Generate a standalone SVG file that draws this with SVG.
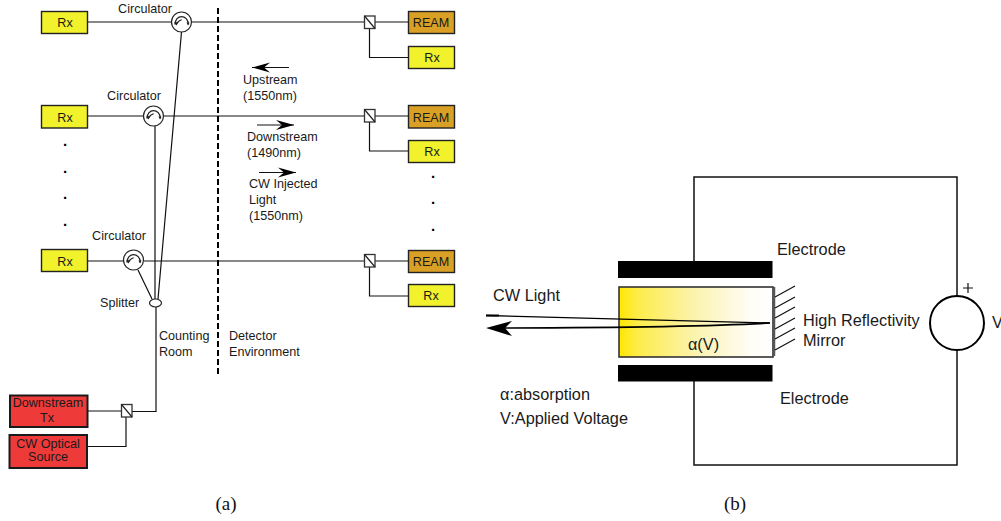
<svg xmlns="http://www.w3.org/2000/svg" width="1001" height="521" viewBox="0 0 1001 521">
<style>
text{font-family:"Liberation Sans",Arial,sans-serif;font-size:12.6px;fill:#1a1a1a}
.c{text-anchor:middle}
.b{font-size:16.3px}
.s{font-family:"Liberation Serif","Times New Roman",serif;font-size:19px;fill:#111}
.d{font-size:15px;font-weight:bold;fill:#000}
.l{fill:none;stroke:#111;stroke-width:1.2}
.rx{fill:#f1f12c;stroke:#222;stroke-width:1.4}
.rm{fill:#d9a025;stroke:#222;stroke-width:1.4}
.tx{fill:#ef3a3a;stroke:#1a1a1a;stroke-width:2}
.sw{fill:#fff;stroke:#333;stroke-width:1.3}
.cir{fill:#fff;stroke:#222;stroke-width:1.2}
.g{fill:none;stroke:#222;stroke-width:1.2}
</style>
<defs>
<marker id="ah" markerUnits="userSpaceOnUse" markerWidth="20" markerHeight="12" refX="18" refY="6" orient="auto"><path d="M0 1 L18 6 L0 11 L6 6Z" fill="#000"/></marker>
<linearGradient id="gr" x1="0" x2="1" y1="0" y2="0"><stop offset="0" stop-color="#ffe600"/><stop offset=".12" stop-color="#fdec4a"/><stop offset=".5" stop-color="#fbf3b0"/><stop offset=".85" stop-color="#fffdf5"/><stop offset="1" stop-color="#fff"/></linearGradient>
<g id="glyph"><path d="M-6.500 2.500C-6.500 -8 6.500 -8 7 2.500" fill="none" stroke="#222" stroke-width="1.300"/><path d="M-4.500 1.500C-3 -2 -1 -1 0 -2.500" fill="none" stroke="#222" stroke-width="1.300"/><path d="M-7.500 0.500L-5 3.500L-3 0ZM5 0.500L8 0.500L6.500 3.500Z" fill="#222"/></g>
</defs>
<g id="connectors">
<path class="l" d="M88 22H171M192 22H365M88 116H143M164 116H365M88 261H123M144 261H365"/>
<path class="l" d="M375 22H408M375 116H408M375 261H408"/>
<path class="l" d="M369.500 28V57.500H408M369.500 122V151H408M369.500 267V296H408"/>
<path class="l" d="M181.500 32L158 299M155 126V299M138 270L152 299M156 307V411.500H132"/>
<path class="l" d="M88 411H121M87 446.500H126V417"/>
<path d="M218 8V376" fill="none" stroke="#000" stroke-width="2" stroke-dasharray="6 3"/>
<path class="l" d="M289 67.500H252" marker-end="url(#ah)"/>
<path class="l" d="M257 125H294" marker-end="url(#ah)"/>
<path class="l" d="M259 172.500H296" marker-end="url(#ah)"/>
</g>
<g id="rx1"><rect class="rx" x="41.500" y="11.500" width="46" height="22"/><text class="c" x="65" y="27">Rx</text></g>
<g id="rx2"><rect class="rx" x="41.500" y="105.500" width="46" height="22.500"/><text class="c" x="65" y="122">Rx</text></g>
<g id="rx3"><rect class="rx" x="41.500" y="249.500" width="46" height="22"/><text class="c" x="65" y="266">Rx</text></g>
<g id="dots-left"><text class="c d" x="65" y="146">.</text><text class="c d" x="65" y="173">.</text><text class="c d" x="65" y="199">.</text><text class="c d" x="65" y="226">.</text></g>
<g id="circ1"><circle class="cir" cx="181.500" cy="22" r="10"/><use href="#glyph" x="181.500" y="22"/><text class="c" x="145" y="13">Circulator</text></g>
<g id="circ2"><circle class="cir" cx="153.500" cy="116" r="10"/><use href="#glyph" x="153.500" y="116"/><text class="c" x="134" y="100">Circulator</text></g>
<g id="circ3"><circle class="cir" cx="133.500" cy="260" r="10"/><use href="#glyph" x="133.500" y="260"/><text class="c" x="119" y="240">Circulator</text></g>
<g id="splitter"><ellipse class="cir" cx="155.500" cy="303" rx="6" ry="4"/><text x="100" y="306.500">Splitter</text></g>
<g id="sw1"><rect class="sw" x="364.500" y="16" width="10.500" height="12.500"/><path class="g" d="M364.500 16L375 28.500"/></g>
<g id="sw2"><rect class="sw" x="364.500" y="109.500" width="10.500" height="12.500"/><path class="g" d="M364.500 109.500L375 122"/></g>
<g id="sw3"><rect class="sw" x="364.500" y="254.500" width="10.500" height="12.500"/><path class="g" d="M364.500 254.500L375 267"/></g>
<g id="ream1"><rect class="rm" x="408.500" y="11.500" width="46" height="22"/><text class="c" x="431" y="27">REAM</text></g>
<g id="rx4"><rect class="rx" x="408.500" y="46.500" width="46" height="22"/><text class="c" x="432" y="62">Rx</text></g>
<g id="ream2"><rect class="rm" x="408.500" y="105.500" width="46" height="22.500"/><text class="c" x="431" y="122">REAM</text></g>
<g id="rx5"><rect class="rx" x="408.500" y="140.500" width="46" height="22"/><text class="c" x="432" y="156">Rx</text></g>
<g id="ream3"><rect class="rm" x="408.500" y="250.500" width="46" height="22"/><text class="c" x="431" y="266">REAM</text></g>
<g id="rx6"><rect class="rx" x="408.500" y="284.500" width="46" height="22"/><text class="c" x="431" y="300">Rx</text></g>
<g id="dots-right"><text class="c d" x="433" y="178">.</text><text class="c d" x="433" y="204">.</text><text class="c d" x="433" y="231">.</text></g>
<g id="tx1"><rect class="tx" x="10" y="395.500" width="77.500" height="31.500"/><text class="c" x="48" y="407">Downstream</text><text class="c" x="47" y="421.500">Tx</text></g>
<g id="tx2"><rect class="tx" x="9.500" y="435" width="77.500" height="33"/><text class="c" x="48" y="448">CW Optical</text><text class="c" x="48" y="461">Source</text></g>
<g id="sw4"><rect class="sw" x="121.500" y="404.500" width="10.500" height="12.500"/><path class="g" d="M121.500 404.500L132 417"/></g>
<g id="labels-a">
<text x="243" y="84">Upstream</text><text x="243" y="100">(1550nm)</text>
<text x="247" y="141">Downstream</text><text x="247" y="157">(1490nm)</text>
<text x="249" y="188">CW Injected</text><text x="249" y="204">Light</text><text x="249" y="220">(1550nm)</text>
<text x="159" y="340">Counting</text><text x="159" y="356">Room</text>
<text x="229" y="340">Detector</text><text x="229" y="356">Environment</text>
<text class="s c" x="226" y="510">(a)</text>
</g>
<g id="circuit">
<path d="M694 261V177H957V296M957 350V465H694V381" fill="none" stroke="#111" stroke-width="1.5"/>
<rect id="electrode-top" x="618" y="261" width="154.500" height="17" fill="#000"/>
<rect id="electrode-bottom" x="618" y="365" width="154.500" height="16.500" fill="#000"/>
<circle cx="957" cy="323" r="27" fill="#fff" stroke="#000" stroke-width="2"/>
<path d="M968 283V293M963 288H973" stroke="#111" stroke-width="1.200" fill="none"/>
</g>
<g id="modulator">
<rect x="619" y="287" width="154" height="70" fill="url(#gr)" stroke="#333" stroke-width="1.6"/>
<path d="M774 287V356" stroke="#555" stroke-width="2.500"/>
<path class="l" d="M775 297L795 286M775 308L795 297M775 318L795 307M775 329L795 318M775 339L795 328M775 350L795 339"/>
<path d="M486 315.500L770 323" fill="none" stroke="#000" stroke-width="1.400"/>
<path d="M486 315.500H499" fill="none" stroke="#000" stroke-width="2"/>
<path d="M770 323C720 326 650 327.500 500 328" fill="none" stroke="#000" stroke-width="1.600"/>
<path d="M486 328L512 321L505 328L512 336Z" fill="#000"/>
<text class="b c" x="703.500" y="350">α(V)</text>
</g>
<g id="labels-b">
<text class="b" x="493" y="301">CW Light</text>
<text class="b" x="777" y="255">Electrode</text>
<text class="b" x="780" y="404">Electrode</text>
<text class="b" x="803" y="326">High Reflectivity</text>
<text class="b" x="803" y="346">Mirror</text>
<text class="b" x="992" y="328">V</text>
<text class="b" x="500" y="400">α:absorption</text>
<text class="b" x="500" y="424">V:Applied Voltage</text>
<text class="s c" x="735" y="510">(b)</text>
</g>
</svg>
